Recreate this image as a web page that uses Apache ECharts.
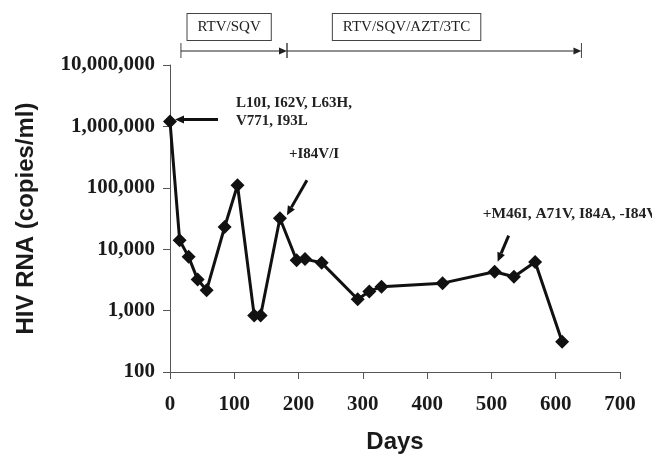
<!DOCTYPE html>
<html>
<head>
<meta charset="utf-8">
<script src="https://cdn.jsdelivr.net/npm/echarts@6/dist/echarts.min.js"></script>
<style>
  html, body { margin: 0; padding: 0; background: #fff; }
  .chart { width: 652px; height: 454px; }
</style>
</head>
<body>
<div class="chart"></div>
<script>
// viral load over time
const days = [0, 15, 29, 43, 57, 85, 105, 131, 141, 171, 197, 210, 236, 292, 310, 329, 424, 505, 535, 568, 610];
const copies = [1200000, 14000, 7500, 3200, 2150, 23000, 110000, 830, 830, 32000, 6600, 6900, 6000, 1530, 2050, 2450, 2800, 4300, 3550, 6200, 310];

// treatment phases: [label, start day, end day, label centre day]
const phases = [
  ["RTV/SQV", 17, 182, 92],
  ["RTV/SQV/AZT/3TC", 182, 640, 368],
];

// mutation notes: [text, index of point]
const notes = [
  ["L10I, I62V, L63H,\nV771, I93L", 0],
  ["+I84V/I", 9],
  ["+M46I, A71V, I84A, -I84V", 17],
];

(function () {
  const el = document.querySelector(".chart");
  const myChart = echarts.init(el);
  const serif = "'Liberation Serif', 'Times New Roman', serif";
  const sans = "'Liberation Sans', Arial, sans-serif";

  const option = {
    animation: false,
    grid: { left: 170, right: 32, top: 65, bottom: 82, outerBoundsMode: "none" },
    xAxis: {
      type: "value",
      min: 0,
      max: 700,
      interval: 100,
      name: "Days",
      nameLocation: "middle",
      nameGap: 58,
      nameTextStyle: { fontFamily: sans, fontWeight: "bold", fontSize: 24, color: "#1a1a1a" },
      axisLine: { onZero: false, lineStyle: { color: "#555", width: 1 } },
      axisTick: { length: 7, lineStyle: { color: "#555" } },
      axisLabel: { margin: 22, fontFamily: serif, fontWeight: "bold", fontSize: 21, color: "#1a1a1a" },
      splitLine: { show: false },
    },
    yAxis: {
      type: "log",
      logBase: 10,
      min: 100,
      max: 10000000,
      name: "HIV RNA (copies/ml)",
      nameLocation: "middle",
      nameRotate: 90,
      nameGap: 132,
      nameTextStyle: { fontFamily: sans, fontWeight: "bold", fontSize: 24, color: "#1a1a1a" },
      axisLine: { show: true, onZero: false, lineStyle: { color: "#555", width: 1 } },
      axisTick: { show: true, length: 7, lineStyle: { color: "#555" } },
      axisLabel: {
        margin: 15,
        fontFamily: serif,
        fontWeight: "bold",
        fontSize: 21,
        color: "#1a1a1a",
        formatter: function (v) {
          return Math.round(v).toLocaleString("en-US");
        },
      },
      splitLine: { show: false },
    },
    series: [
      {
        type: "line",
        data: days.map(function (d, i) {
          return [d, copies[i]];
        }),
        symbol: "diamond",
        symbolSize: 14,
        lineStyle: { color: "#111", width: 3 },
        itemStyle: { color: "#111" },
      },
    ],
  };
  myChart.setOption(option);

  function arrow(x1, y1, x2, y2, color, width, head) {
    const a = Math.atan2(y2 - y1, x2 - x1);
    const hw = head * 0.45;
    const bx = x2 - head * Math.cos(a);
    const by = y2 - head * Math.sin(a);
    const px = -Math.sin(a);
    const py = Math.cos(a);
    return [
      {
        type: "line",
        shape: { x1: x1, y1: y1, x2: bx, y2: by },
        style: { stroke: color, lineWidth: width },
      },
      {
        type: "polygon",
        shape: { points: [[x2, y2], [bx + hw * px, by + hw * py], [bx - hw * px, by - hw * py]] },
        style: { fill: color },
      },
    ];
  }

  function px(d, v) {
    return myChart.convertToPixel({ gridIndex: 0 }, [d, v]);
  }

  const graphics = [];

  // treatment bar above the plot
  const barY = 51;
  phases.forEach(function (ph) {
    const x1 = px(ph[1], 1000)[0];
    const x2 = px(ph[2], 1000)[0];
    const xc = px(ph[3], 1000)[0];
    graphics.push({
      type: "line",
      shape: { x1: x1, y1: barY - 8, x2: x1, y2: barY + 7 },
      style: { stroke: "#444", lineWidth: 1 },
    });
    graphics.push({
      type: "line",
      shape: { x1: x2, y1: barY - 8, x2: x2, y2: barY + 7 },
      style: { stroke: "#444", lineWidth: 1 },
    });
    arrow(x1, barY, x2, barY, "#222", 1, 8).forEach(function (g) {
      graphics.push(g);
    });
    graphics.push({
      type: "text",
      style: {
        text: ph[0],
        x: xc,
        y: 27,
        align: "center",
        verticalAlign: "middle",
        font: "15px " + serif,
        fill: "#222",
        backgroundColor: "#fff",
        borderColor: "#444",
        borderWidth: 1,
        padding: [6, 10, 5, 10],
      },
    });
  });

  // mutation notes
  const offs = [
    { ax: [48, -2], at: [5, -2], tx: [66, -9] },
    { ax: [27, -38], at: [7, -3], tx: [9, -64] },
    { ax: [14, -36], at: [3, -10], tx: [-12, -58] },
  ];
  notes.forEach(function (n, k) {
    const i = n[1];
    const p = px(days[i], copies[i]);
    const o = offs[k];
    arrow(p[0] + o.ax[0], p[1] + o.ax[1], p[0] + o.at[0], p[1] + o.at[1], "#111", 3, 9).forEach(function (g) {
      graphics.push(g);
    });
    graphics.push({
      type: "text",
      style: {
        text: n[0],
        x: p[0] + o.tx[0],
        y: p[1] + o.tx[1],
        align: "left",
        verticalAlign: "middle",
        font: "bold " + (k === 2 ? 15.5 : 15) + "px " + serif,
        lineHeight: 18,
        fill: "#222",
      },
    });
  });

  myChart.setOption({ graphic: graphics });

  window.addEventListener("resize", function () {
    myChart.resize();
  });
})();
</script>
</body>
</html>
